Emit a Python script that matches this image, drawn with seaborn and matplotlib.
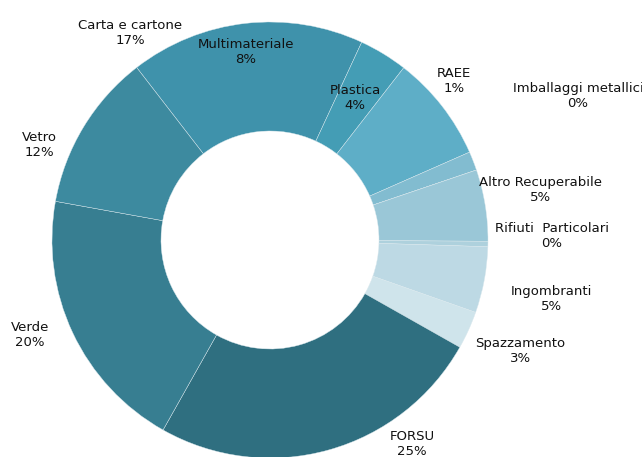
import matplotlib
matplotlib.use("Agg")
import matplotlib.pyplot as plt
import seaborn as sns

# slice order (clockwise from upper left)
categories = ["Carta e cartone", "Plastica", "Multimateriale", "RAEE",
              "Imballaggi metallici", "Altro Recuperabile", "Rifiuti Particolari",
              "Ingombranti", "Spazzamento", "FORSU", "Verde", "Vetro"]
values = [17.4, 3.6, 7.9, 1.4, 0.0, 5.3, 0.4, 4.9, 2.8, 25.0, 19.7, 11.7]

# labels as they appear on the chart
label_names = ["Carta e cartone", "Multimateriale", "Plastica", "RAEE",
               "Imballaggi metallici", "Altro Recuperabile", "Rifiuti  Particolari",
               "Ingombranti", "Spazzamento", "FORSU", "Verde", "Vetro"]
label_pct = [17, 8, 4, 1, 0, 5, 0, 5, 3, 25, 20, 12]

colors = ["#3f92ab", "#449db5", "#5eaec7", "#82bcd0", "#8fc2d3", "#9ac7d7",
          "#aed1dd", "#bdd9e4", "#cfe4eb", "#2f6f80", "#377e91", "#3d8a9f"]
label_pos = [(-0.642, 0.95), (-0.11, 0.862), (0.39, 0.651), (0.844, 0.729),
             (1.413, 0.66), (1.243, 0.229), (1.294, 0.018), (1.289, -0.271),
             (1.147, -0.509), (0.651, -0.936), (-1.101, -0.436), (-1.06, 0.436)]

sns.set_theme(style="white")
plt.rcParams["font.family"] = ["DejaVu Sans"]

fig = plt.figure(figsize=(6.42, 4.57), dpi=100)
ax = fig.add_axes([0, 0, 1, 1])
ax.pie(values, colors=colors, startangle=127.7, counterclock=False,
       wedgeprops=dict(width=0.5, edgecolor="#dbe9ee", linewidth=0.3))
for name, pct, (x, y) in zip(label_names, label_pct, label_pos):
    ax.text(x, y, name + "\n" + str(pct) + "%", ha="center", va="center",
            fontsize=9.5, color="#111111", linespacing=1.25)
ax.set_xlim(-1.2385, 1.7064)
ax.set_ylim(-0.9954, 1.1009)
ax.set_aspect("auto")
ax.axis("off")
fig.savefig("out.png", dpi=100)
